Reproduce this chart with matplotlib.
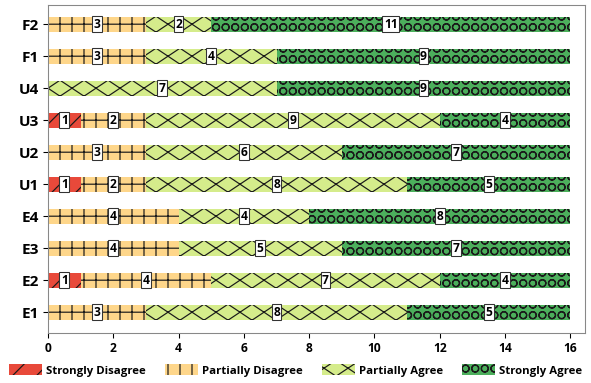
import numpy as np
import matplotlib
matplotlib.use('Agg')
import matplotlib.pyplot as plt
import matplotlib.hatch as mhatch
from matplotlib.path import Path
from matplotlib.patches import Patch

plt.rcParams['font.family'] = ['Open Sans', 'DejaVu Sans']
plt.rcParams['hatch.linewidth'] = 0.9

questions = ['E1', 'E2', 'E3', 'E4', 'U1', 'U2', 'U3', 'U4', 'F1', 'F2']
strongly_disagree = [0, 1, 0, 0, 1, 0, 1, 0, 0, 0]
partially_disagree = [3, 4, 4, 4, 2, 3, 2, 0, 3, 3]
partially_agree = [8, 7, 5, 4, 8, 6, 9, 7, 4, 2]
strongly_agree = [5, 4, 7, 8, 5, 7, 4, 9, 9, 11]

series = [
    ('Strongly Disagree', strongly_disagree, '#e8493a', '/'),
    ('Partially Disagree', partially_disagree, '#fed68a', '+'),
    ('Partially Agree', partially_agree, '#d5ec8b', 'x'),
    ('Strongly Agree', strongly_agree, '#4caf5c', 'O'),
]

# layout: dpi chosen so one hatch tile (1 inch) = 3 bar rows
DPI = 96
W, H = 591, 383
AX_L, AX_B, AX_W, AX_H = 48, 50, 537, 328   # pixels
YLIM = (-0.65, 9.6)
row_px = AX_H / (YLIM[1] - YLIM[0])
c0 = AX_B + (0 - YLIM[0]) * row_px          # centre of first bar (px from bottom)
YOFF = ((c0 - (H % DPI)) / DPI) % 1.0       # hatch-unit offset of bar centres


# ---- custom hatch paths (unit tile) ----
def _segments(segs):
    verts, codes = [], []
    for x0, y0, x1, y1 in segs:
        verts += [(x0, y0), (x1, y1)]
        codes += [Path.MOVETO, Path.LINETO]
    return Path(np.array(verts), codes)


def _slash_path(n=4, xoff=(AX_L + 4) / 96):
    segs = []
    for k in range(-12, 16):
        x = xoff % (1 / n) + k / n
        segs.append((x - 1.5, YOFF - 1.5, x + 1.5, YOFF + 1.5))
    return _segments(segs)


def _grid_path():
    segs = [(k / 8, -0.1, k / 8, 1.1) for k in range(9)]
    segs += [(-0.1, YOFF + k / 3 - 1, 1.1, YOFF + k / 3 - 1) for k in range(7)]
    return _segments(segs)


def _diamond_path(n=4, m=6):
    s = n / m
    segs = []
    for k in range(-12, 16):
        x = k / n
        segs.append((x - 1.5, YOFF - 1.5 * s, x + 1.5, YOFF + 1.5 * s))
        segs.append((x - 1.5, YOFF + 1.5 * s, x + 1.5, YOFF - 1.5 * s))
    return _segments(segs)


def _circle_path(ncol=10, nrow=9, r=3.6 / 96, dy=-3 / 96):
    circ = Path.unit_circle()
    outer = circ.vertices * r
    inner = circ.vertices[::-1] * r * 0.9
    verts, codes = [], []
    for k in range(-2, nrow + 3):
        cy = (YOFF + dy) % 1.0 + k / nrow - 1
        for j in range(ncol):
            cx = (j + 0.5) / ncol
            verts.append(outer + (cx, cy))
            verts.append(inner + (cx, cy))
            codes += [circ.codes, circ.codes]
    return Path(np.concatenate(verts), np.concatenate(codes))


CUSTOM_HATCH = {'/': _slash_path(), '+': _grid_path(),
                'x': _diamond_path(), 'O': _circle_path()}
_orig_get_path = mhatch.get_path


def _get_path(pattern, density=6):
    if pattern in CUSTOM_HATCH:
        return CUSTOM_HATCH[pattern]
    return _orig_get_path(pattern, density)


mhatch.get_path = _get_path

fig = plt.figure(figsize=(W / DPI, H / DPI), dpi=DPI)
ax = fig.add_axes([AX_L / W, AX_B / H, AX_W / W, AX_H / H])

y = list(range(len(questions)))
left = [0] * len(questions)
handles = []
for name, vals, color, hatch in series:
    ax.barh(y, vals, left=left, height=0.48, color=color, hatch=hatch,
            edgecolor='#1a1a1a', linewidth=0)
    for yi, v, l in zip(y, vals, left):
        if v > 0:
            ax.text(l + v / 2, yi, str(v), ha='center', va='center',
                    fontsize=9, fontweight='bold',
                    bbox=dict(boxstyle='square,pad=0.12', fc='white',
                              ec='#333333', lw=0.8))
    left = [a + b for a, b in zip(left, vals)]
    handles.append(Patch(facecolor=color, hatch=hatch, edgecolor='#1a1a1a',
                         linewidth=0, label=name))

ax.set_xlim(0, 16.45)
ax.set_ylim(*YLIM)
ax.set_xticks(range(0, 17, 2))
ax.set_yticks(y)
ax.set_yticklabels(questions)
ax.tick_params(axis='x', labelsize=9)
ax.tick_params(axis='y', labelsize=11.5)
for t in ax.get_xticklabels() + ax.get_yticklabels():
    t.set_fontweight('bold')
for s in ax.spines.values():
    s.set_color('#888888')

fig.legend(handles=handles, loc='lower center', ncol=4, frameon=False,
           bbox_to_anchor=(0.5, -0.01), handlelength=2.9, handleheight=1.1,
           columnspacing=1.7, handletextpad=0.35,
           prop={'size': 8.5, 'weight': 'bold'})

fig.savefig('out.png', dpi=DPI)
